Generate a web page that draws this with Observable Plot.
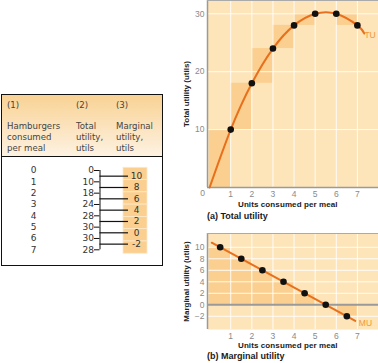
<!DOCTYPE html>
<html><head><meta charset="utf-8">
<script src="https://cdn.jsdelivr.net/npm/d3@7"></script>
<script src="https://cdn.jsdelivr.net/npm/@observablehq/plot@0.6"></script>
<style>
body{margin:0;background:#fff;}
#root{position:relative;width:378px;height:363px;overflow:hidden;font-family:"Liberation Sans",Arial,sans-serif;}
.abs{position:absolute;white-space:nowrap;}
.cap{font-weight:bold;color:#1a1a1a;}
.th{font-family:"DejaVu Sans",sans-serif;font-size:8.6px;line-height:11px;color:#444;}
#table{position:absolute;left:1px;top:94px;width:160px;height:170px;border:1px solid #111;background:#fff;}
#thead{position:absolute;left:0;top:0;width:160px;height:61px;border-bottom:1px solid #111;background:linear-gradient(#f9d294,#fdf2e2);}
</style></head><body><div id="root"></div>
<script>
// ---- data ----
const units = [0, 1, 2, 3, 4, 5, 6, 7];
const totalUtility = [0, 10, 18, 24, 28, 30, 30, 28];
const marginalUtility = [10, 8, 6, 4, 2, 0, -2];
const tuCurveEnd = {x: 7.33, y: 26.6};          // where the drawn TU curve stops
const muLineEnds = [{x: 0.1, y: 10.8}, {x: 6.9, y: -2.8}];
const xTicks = [1, 2, 3, 4, 5, 6, 7];
const tuTicks = [10, 20, 30];
const muTicks = [-2, 0, 2, 4, 6, 8, 10];
const muGrid = [-2, 2, 4, 6, 8, 10];
const colNumbers = ["(1)", "(2)", "(3)"];
const colTitles = [["Hamburgers", "consumed", "per meal"], ["Total", "utility,", "utils"], ["Marginal", "utility,", "utils"]];

// ---- styles ----
const FONT = '"Liberation Sans", Arial, sans-serif';
const BG = "#fde4b9", BAR = "#fbcf8f", ORANGE = "#e8701c", LBL = "#f0993a";
const AX = "#9a9a9a", TICK = "#8a8a8a";

const root = document.getElementById("root");
function place(el, left, top) { el.style.position = "absolute"; el.style.left = left + "px"; el.style.top = top + "px"; root.appendChild(el); }
function label(text, cls, css) { const d = document.createElement("div"); d.className = "abs " + cls; d.textContent = text; Object.assign(d.style, css); root.appendChild(d); return d; }

// ---- table ----
const tbl = document.createElement("div"); tbl.id = "table";
const th = document.createElement("div"); th.id = "thead"; tbl.appendChild(th);
root.appendChild(tbl);
const colLeft = [7, 76, 116];
colNumbers.forEach((n, i) => {
  label(n, "th", {left: colLeft[i] + "px", top: "99.5px"});
  const d = label("", "th", {left: colLeft[i] + "px", top: "120.5px"});
  d.innerHTML = colTitles[i].join("<br>");
});

const rows = units.map((u, i) => ({row: i, unit: u, tu: totalUtility[i]}));
const pairs = marginalUtility.map((m, i) => ({row: i, mu: m}));
const tablePlot = Plot.plot({
  width: 163, height: 108, margin: 0,
  x: {domain: [0, 163], range: [0, 163], axis: null},
  y: {domain: [0, 7], range: [13, 92.3], axis: null},
  style: {fontFamily: '"DejaVu Sans", sans-serif', fontSize: "9px", background: "transparent", overflow: "visible"},
  marks: [
    Plot.rect(pairs, {x1: 123, x2: 147, y1: d => d.row * 1.084 - 0.24, y2: d => (d.row + 1) * 1.084 - 0.24, fill: BAR, stroke: "#fde9c9", strokeWidth: 0.8}),
    Plot.text(rows, {x: 33, y: "row", text: d => String(d.unit), fill: "#333"}),
    Plot.text(rows, {x: 93.5, y: "row", text: d => String(d.tu), textAnchor: "end", fill: "#333"}),
    Plot.ruleY(rows, {y: "row", x1: 94, x2: 99.5, stroke: "#111"}),
    Plot.ruleX(pairs, {x: 99.5, y1: "row", y2: d => d.row + 1, stroke: "#111"}),
    Plot.ruleY(pairs, {y: d => d.row + 0.5, x1: 99.5, x2: 128, stroke: "#111", strokeWidth: 1.2}),
    Plot.text(pairs, {x: 136, y: d => d.row + 0.5, text: d => String(d.mu), fill: "#333"})
  ]
});
place(tablePlot, 0, 157);

// ---- (a) total utility ----
const tuPts = units.map((u, i) => ({x: u, y: totalUtility[i]}));
const tuSteps = units.slice(1).map((u, i) => ({x1: units[i], x2: u, y1: totalUtility[i], y2: totalUtility[i + 1]}));
const xDom = [-0.1, 8];
const topPlot = Plot.plot({
  width: 198, height: 200, marginLeft: 27, marginRight: 0, marginTop: 0, marginBottom: 13,
  x: {domain: xDom}, y: {domain: [0, 32.3]},
  style: {fontFamily: FONT, fontSize: "8.5px", background: "transparent", overflow: "visible"},
  marks: [
    Plot.frame({fill: BG}),
    Plot.rect(tuSteps, {x1: "x1", x2: "x2", y1: "y1", y2: "y2", fill: BAR}),
    Plot.ruleX(xTicks, {stroke: "white", strokeOpacity: 0.9}),
    Plot.ruleY(tuTicks, {stroke: "white", strokeOpacity: 0.9}),
    Plot.ruleY([0], {stroke: AX, strokeWidth: 1.5}),
    Plot.ruleX([xDom[0]], {stroke: AX, strokeWidth: 1.5}),
    Plot.ruleY([32.3], {stroke: "#aaa", strokeWidth: 1}),
    Plot.line([...tuPts, tuCurveEnd], {x: "x", y: "y", curve: "natural", stroke: ORANGE, strokeWidth: 2}),
    Plot.dot(tuPts.slice(1), {x: "x", y: "y", r: 3.3, fill: "#111"}),
    Plot.text(tuPts.slice(-1), {x: "x", y: "y", text: () => "TU", dx: 7, dy: 10, textAnchor: "start", fill: LBL, fontSize: 8.5}),
    Plot.axisX({ticks: xTicks, tickSize: 0, tickPadding: 3, fill: TICK, label: null, tickFormat: d => d}),
    Plot.axisY({ticks: tuTicks, tickSize: 0, tickPadding: 3, fill: TICK, label: null}),
    Plot.text(["0"], {frameAnchor: "bottom-left", text: d => d, dx: -5, dy: 6, textAnchor: "middle", lineAnchor: "middle", fill: TICK}),
    Plot.text(["Total utility (utils)"], {frameAnchor: "left", text: d => d, rotate: -90, dx: -21, textAnchor: "middle", lineAnchor: "middle", fontWeight: "bold", fill: "#222", fontSize: 8})
  ]
});
place(topPlot, 180, 0);

label("Units consumed per meal", "cap", {left: "238px", top: "201px", fontSize: "8px", lineHeight: "8px", letterSpacing: "0.1px"});
label("(a) Total utility", "cap", {left: "207px", top: "211.5px", fontSize: "9px", lineHeight: "9px"});

// ---- (b) marginal utility ----
const muPts = marginalUtility.map((v, i) => ({x: units[i + 1] - 0.5, y: v}));
const muBars = marginalUtility.map((v, i) => ({x1: units[i], x2: units[i + 1], y: v}));
const muDom = [-4.3, 12.4];
const botPlot = Plot.plot({
  width: 198, height: 109, marginLeft: 27, marginRight: 0, marginTop: 0, marginBottom: 13,
  x: {domain: xDom}, y: {domain: muDom},
  style: {fontFamily: FONT, fontSize: "8.5px", background: "transparent", overflow: "visible"},
  marks: [
    Plot.frame({fill: BG}),
    Plot.rect(muBars, {x1: "x1", x2: "x2", y1: 0, y2: "y", fill: BAR}),
    Plot.ruleX(xTicks, {stroke: "white", strokeOpacity: 0.9}),
    Plot.ruleY(muGrid, {stroke: "white", strokeOpacity: 0.9}),
    Plot.ruleY([0], {stroke: AX, strokeWidth: 2}),
    Plot.ruleX([xDom[0]], {stroke: AX, strokeWidth: 1.5}),
    Plot.ruleY([muDom[1]], {stroke: "#aaa", strokeWidth: 1}),
    Plot.line(muLineEnds, {x: "x", y: "y", stroke: ORANGE, strokeWidth: 2}),
    Plot.dot(muPts, {x: "x", y: "y", r: 3.3, fill: "#111"}),
    Plot.text(muPts.slice(-1), {x: "x", y: "y", text: () => "MU", dx: 12, dy: 7, textAnchor: "start", fill: LBL, fontSize: 8.5}),
    Plot.axisX({ticks: xTicks, tickSize: 0, tickPadding: 3, fill: TICK, label: null}),
    Plot.axisY({ticks: muTicks, tickSize: 0, tickPadding: 3, fill: TICK, label: null}),
    Plot.text(["Marginal utility (utils)"], {frameAnchor: "left", text: d => d, rotate: -90, dx: -21, textAnchor: "middle", lineAnchor: "middle", fontWeight: "bold", fill: "#222", fontSize: 8})
  ]
});
place(botPlot, 180, 233);

label("Units consumed per meal", "cap", {left: "238px", top: "342px", fontSize: "8px", lineHeight: "8px", letterSpacing: "0.1px"});
label("(b) Marginal utility", "cap", {left: "207px", top: "352px", fontSize: "9px", lineHeight: "9px"});
</script></body></html>
